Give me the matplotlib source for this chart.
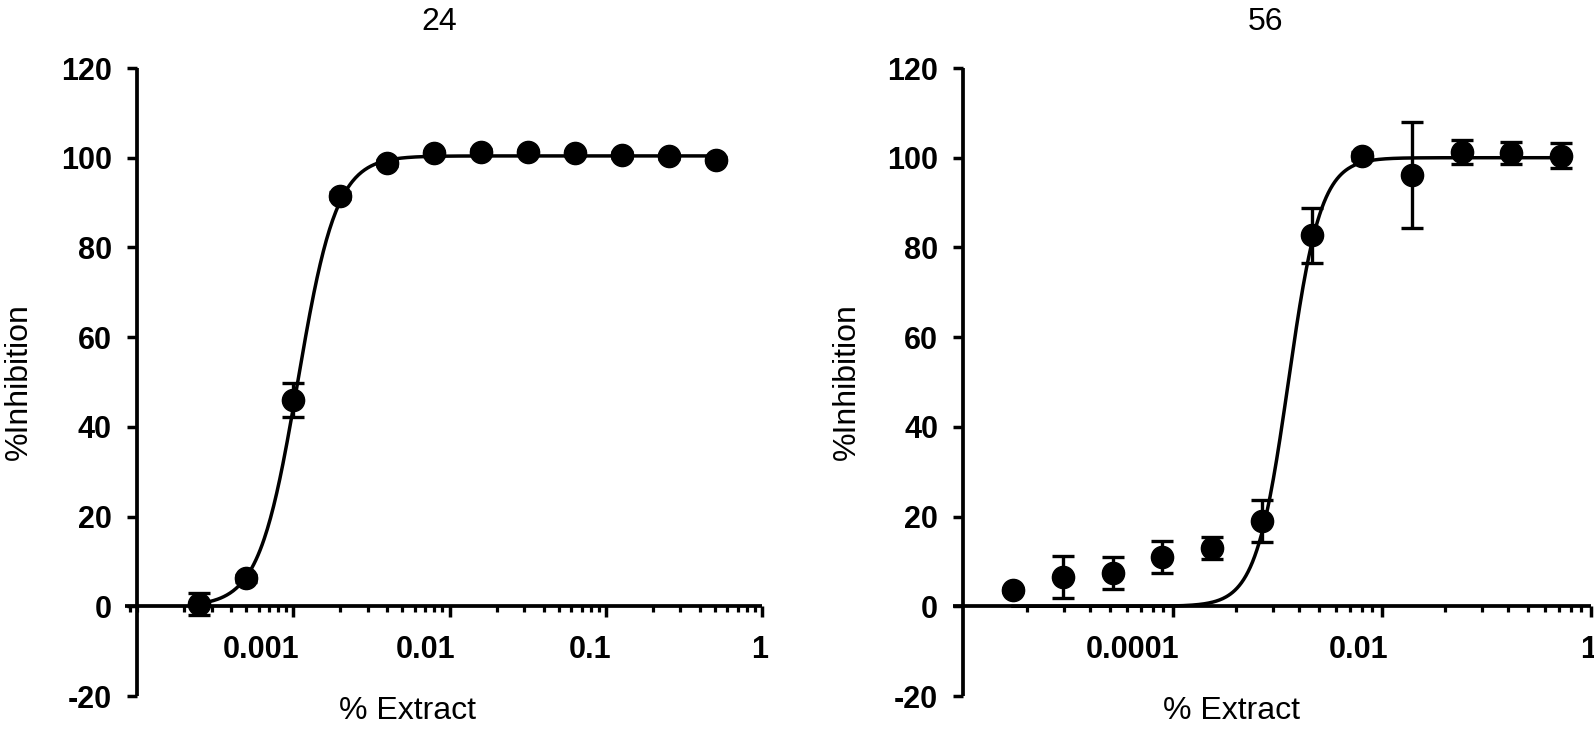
import matplotlib
matplotlib.use("Agg")
import matplotlib.pyplot as plt
import numpy as np
from matplotlib.ticker import FixedLocator, NullFormatter
from matplotlib.transforms import ScaledTranslation

plt.rcParams['font.family'] = ['Liberation Sans', 'DejaVu Sans']

# ---------------- data ----------------
# Panel "24" (2-fold dilutions)
conc_24 = [0.000249, 0.000498, 0.000996, 0.00199, 0.00398, 0.00797,
           0.0159, 0.0319, 0.0638, 0.1275, 0.255, 0.51]
inhib_24 = [0.5, 6.2, 46.0, 91.5, 98.8, 101.0, 101.3, 101.2, 101.0, 100.6, 100.3, 99.6]
err_24 = [2.5, 0.8, 3.7, 0.8, 0.6, 0.6, 0.6, 0.6, 0.6, 0.6, 0.6, 0.6]
fit_24 = {"bottom": 0.0, "top": 100.4, "ic50": 1.07e-3, "hill": 3.5}

# Panel "56" (3-fold dilutions)
conc_56 = [2.94e-6, 8.81e-6, 2.64e-5, 7.93e-5, 2.38e-4, 7.13e-4,
           2.14e-3, 6.42e-3, 0.0193, 0.0578, 0.173, 0.52]
inhib_56 = [3.6, 6.5, 7.4, 11.0, 13.0, 19.0, 82.7, 100.4, 96.1, 101.3, 101.1, 100.4]
err_56 = [0.5, 4.6, 3.5, 3.5, 2.5, 4.6, 6.1, 0.8, 11.8, 2.6, 2.5, 2.8]
fit_56 = {"bottom": 0.0, "top": 100.0, "ic50": 1.27e-3, "hill": 2.8}

titles = ["24", "56"]
y_ticks = [-20, 0, 20, 40, 60, 80, 100, 120]
x_major_24 = [0.001, 0.01, 0.1, 1]
x_labels_24 = ["0.001", "0.01", "0.1", "1"]
x_major_56 = [0.0001, 0.01, 1]
x_labels_56 = ["0.0001", "0.01", "1"]

# ---------------- figure ----------------
W, H = 1594, 741
fig = plt.figure(figsize=(W / 100, H / 100), dpi=100)


def px_axes(x0, x1, ytop, ybot):
    return fig.add_axes([x0 / W, 1 - ybot / H, (x1 - x0) / W, (ybot - ytop) / H])


ax1 = px_axes(125, 762, 68, 696)
ax2 = px_axes(953, 1591, 68, 696)


def logistic(x, p):
    x = np.asarray(x, dtype=float)
    return p["bottom"] + (p["top"] - p["bottom"]) / (1 + (p["ic50"] / x) ** p["hill"])


def draw(ax, conc, inhib, err, fit):
    xs = np.logspace(np.log10(conc[0]), np.log10(conc[-1]), 500)
    ax.plot(xs, logistic(xs, fit), color="black", lw=2.5, zorder=2, clip_on=False)
    ax.errorbar(conc, inhib, yerr=err, fmt="o", color="black", ms=16,
                capsize=8, elinewidth=2.4, capthick=2.4, zorder=3, clip_on=False)


def style(ax, xlim, xmajor, xlabels, xminor, spine_frac, title, title_x, xlabel_x, ylabel_x):
    ax.set_xscale("log")
    ax.set_xlim(*xlim)
    ax.set_ylim(-20, 120)
    for s in ("top", "right"):
        ax.spines[s].set_visible(False)
    ax.spines["bottom"].set_position(("data", 0))
    ax.spines["left"].set_position(("axes", spine_frac))
    for s in ("bottom", "left"):
        ax.spines[s].set_linewidth(2.7)
        ax.spines[s].set_capstyle("butt")
    ax.xaxis.set_major_locator(FixedLocator(xmajor))
    ax.set_xticklabels(xlabels, fontweight="bold", fontsize=22, ha="right")
    ax.xaxis.set_minor_locator(FixedLocator(xminor))
    ax.xaxis.set_minor_formatter(NullFormatter())
    ax.set_yticks(y_ticks)
    ax.set_yticklabels([str(v) for v in y_ticks], fontweight="bold", fontsize=22)
    ax.tick_params(axis="x", which="major", direction="out", length=8, width=2.5, pad=13)
    ax.tick_params(axis="x", which="minor", direction="out", length=4.5, width=2.3)
    ax.tick_params(axis="y", which="major", direction="out", length=7, width=2.5, pad=11)
    off = ScaledTranslation(6 / 100, 0, fig.dpi_scale_trans)
    for lab in ax.xaxis.get_majorticklabels():
        lab.set_transform(lab.get_transform() + off)
    ax.set_xlabel("% Extract", fontsize=23)
    ax.xaxis.set_label_coords(xlabel_x, 0.0)
    ax.set_ylabel("%Inhibition", fontsize=23)
    ax.yaxis.set_label_coords(ylabel_x, 0.5)
    ax.yaxis.label.set_verticalalignment("center")
    ax.text(title_x, 1.0605, title, transform=ax.transAxes, ha="center",
            va="baseline", fontsize=23)
    ax.set_facecolor("none")


draw(ax1, conc_24, inhib_24, err_24, fit_24)
draw(ax2, conc_56, inhib_56, err_56, fit_56)

minor_24 = [k * 10.0 ** m for m in range(-5, 0) for k in range(1, 10)
            if 10 ** -4.077 <= k * 10.0 ** m <= 1 and k != 1]
minor_24 = minor_24 + [1e-4]
minor_56 = [k * k * 10.0 ** m for m in (-6, -4, -2) for k in range(2, 10)]

style(ax1, (10 ** -4.077, 1.0), x_major_24, x_labels_24, minor_24, 0.0188,
      titles[0], 0.493, 0.443, -0.166)
style(ax2, (10 ** -6.105, 1.0), x_major_56, x_labels_56, minor_56, 0.0157,
      titles[1], 0.49, 0.436, -0.167)

fig.savefig("out.png", dpi=100)
